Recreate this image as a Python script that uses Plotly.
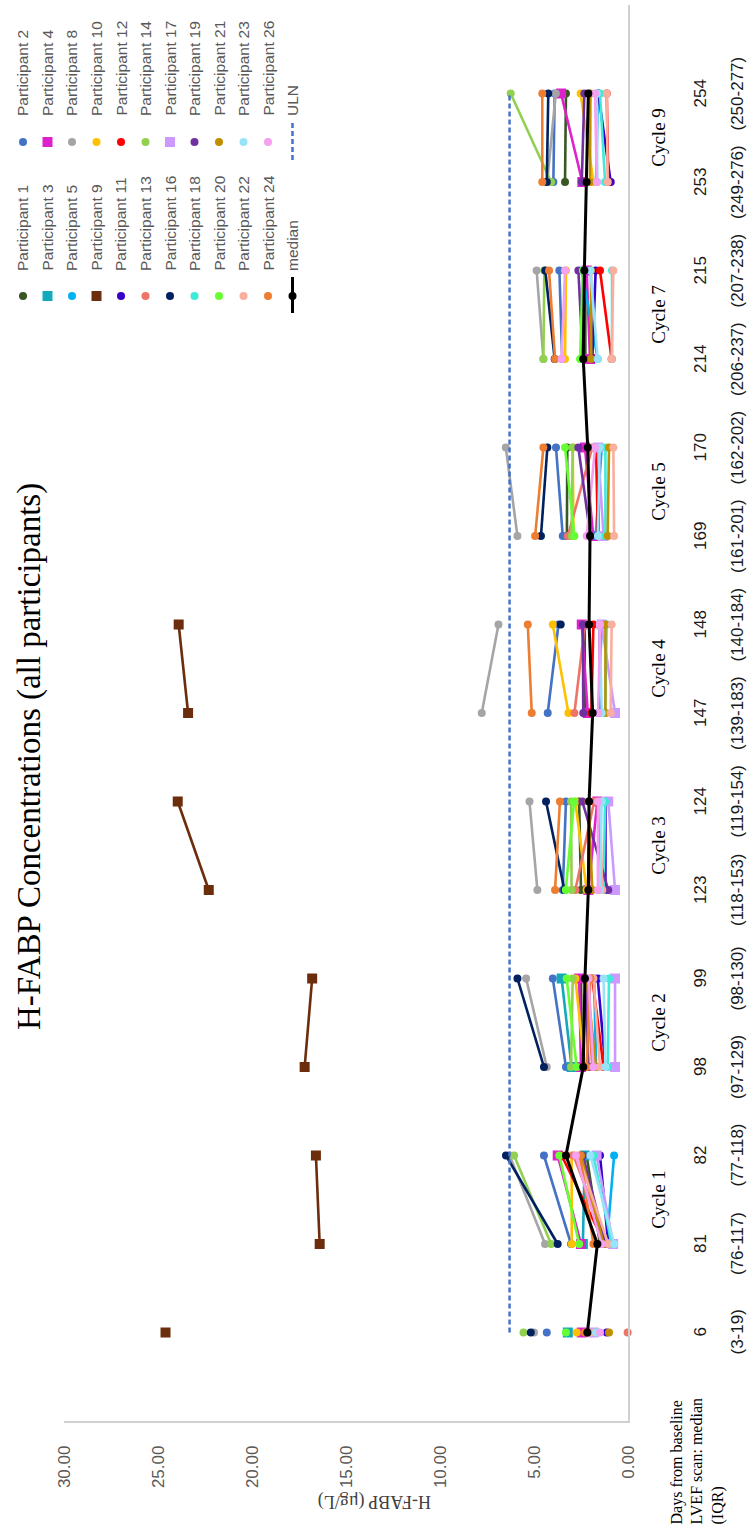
import plotly.graph_objects as go

# ---------------- data ----------------
days = ["6", "81", "82", "98", "99", "123", "124", "147", "148", "169", "170", "214", "215", "253", "254"]
iqr = ["(3-19)", "(76-117)", "(77-118)", "(97-129)", "(98-130)", "(118-153)", "(119-154)",
       "(139-183)", "(140-184)", "(161-201)", "(162-202)", "(206-237)", "(207-238)",
       "(249-276)", "(250-277)"]
cycles = ["Cycle 1", "Cycle 2", "Cycle 3", "Cycle 4", "Cycle 5", "Cycle 7", "Cycle 9"]
value_ticks = [0, 5, 10, 15, 20, 25, 30]

N = None
p1 = [2.10, 1.49, 2.20, 2.45, 2.50, 2.50, 2.60, 2.30, 2.30, 3.25, 3.23, 2.27, 2.27, 3.35, 3.30]
p2 = [4.32, 3.03, 4.47, 3.30, 4.00, 3.47, 3.30, 4.27, 3.70, 3.47, 3.83, 3.50, 3.65, 3.97, 3.90]
p3 = [3.20, 2.40, 2.30, 3.00, 3.53, N, N, N, N, N, N, N, N, N, N]
p4 = [2.46, 2.50, 3.74, 2.50, 2.60, 2.11, 1.63, 2.14, 2.46, 1.85, 2.29, 2.02, 2.20, 2.43, 3.56]
p5 = [1.70, 1.13, 0.74, 1.70, 1.80, 1.55, 1.55, 1.58, 1.40, 1.72, 1.40, 1.61, 2.46, 1.70, 1.60]
p8 = [5.00, 4.41, 6.30, 4.32, 5.42, 4.82, 5.24, 7.78, 6.89, 5.88, 6.50, 4.50, 4.86, 4.30, 3.84]
p9 = [24.60, 16.40, 16.60, 17.20, 16.80, 22.30, 23.95, 23.40, 23.90, N, N, N, N, N, N]
p10 = [2.73, 2.99, 3.00, 2.30, 2.80, 2.20, 2.80, 3.17, 4.00, 2.90, 2.94, 3.35, 3.30, 1.84, 2.52]
p11 = [1.13, 1.05, 1.49, 1.20, 1.61, 1.20, 1.20, 1.50, 1.50, 1.58, 1.50, 1.90, 1.72, 0.92, 1.58]
p12 = [1.90, 1.22, 3.53, 1.30, 1.90, 1.50, 1.60, 1.95, 1.84, 1.60, 1.70, 0.87, 1.49, 1.05, 1.13]
p13 = [0.02, 1.10, 2.90, 1.90, 2.20, 2.80, 1.80, 2.85, 2.29, 3.20, 1.90, N, N, N, N]
p14 = [5.56, 4.09, 6.06, 3.03, 2.94, 3.00, 3.03, N, N, 3.00, 2.94, 4.50, 4.45, 4.09, 6.24]
p16 = [5.17, 3.74, 6.49, 4.47, 5.88, 3.38, 4.36, N, 3.58, 4.63, 4.29, 3.90, 4.40, 4.32, 4.24]
p17 = [1.84, 0.79, 1.67, 0.69, 0.69, 0.69, 1.05, 0.69, 1.40, 1.30, 1.60, N, N, N, N]
p18 = [1.60, 0.87, 1.84, 1.08, 1.01, 1.30, 1.22, 1.22, 1.13, 1.20, 1.20, 0.85, 0.85, 1.22, 1.49]
p19 = [2.20, 1.20, 2.40, 2.10, 2.30, 1.05, 2.43, 2.38, 2.40, 2.00, 2.64, 2.40, 2.64, 2.46, 2.32]
p20 = [3.30, 2.60, 3.65, 2.73, 3.26, 3.31, 2.87, N, N, 2.85, 3.35, 2.55, 2.40, N, N]
p21 = [1.01, 1.30, 2.50, 1.70, 2.20, 1.90, 2.10, 1.20, 1.20, 1.08, 1.01, 1.95, 1.97, 2.02, 2.00]
p22 = [2.00, 1.05, 2.65, 1.49, 1.84, 1.37, 1.49, 0.92, 0.87, 0.74, 0.78, 0.87, 0.78, 1.08, 1.13]
p23 = [1.70, 0.73, 2.00, 1.20, 1.30, 1.50, 1.40, 1.40, 1.50, 1.60, 1.50, 1.61, 2.00, 1.63, 1.66]
p24 = [2.30, 1.84, 2.55, 2.20, 2.00, 3.88, 3.62, 5.12, 5.33, 4.94, 4.50, 3.88, 4.20, 4.56, 4.56]
p26 = [1.49, 1.40, 2.77, 1.84, 2.10, 1.60, 1.60, 1.58, 1.49, 2.20, 1.75, 3.53, 3.35, 1.66, 1.75]
median = [2.16, 1.63, 3.30, 2.38, 2.29, 2.11, 2.07, 1.88, 2.07, 2.02, 2.14, 2.38, 2.32, 2.20, 2.11]
uln = [6.30] * 15

participants = [
    ("Participant 1", p1), ("Participant 2", p2), ("Participant 3", p3), ("Participant 4", p4),
    ("Participant 5", p5), ("Participant 8", p8), ("Participant 9", p9), ("Participant 10", p10),
    ("Participant 11", p11), ("Participant 12", p12), ("Participant 13", p13), ("Participant 14", p14),
    ("Participant 16", p16), ("Participant 17", p17), ("Participant 18", p18), ("Participant 19", p19),
    ("Participant 20", p20), ("Participant 21", p21), ("Participant 22", p22), ("Participant 23", p23),
    ("Participant 24", p24), ("Participant 26", p26),
]

# ---------------- styles ----------------
colors = {
    "Participant 1": "#385723", "Participant 2": "#4472C4", "Participant 3": "#12A9BD",
    "Participant 4": "#DD22CC", "Participant 5": "#00B0F0", "Participant 8": "#A5A5A5",
    "Participant 9": "#6B2D0C", "Participant 10": "#FFC000", "Participant 11": "#3300CC",
    "Participant 12": "#FF0000", "Participant 13": "#EF7468", "Participant 14": "#92D050",
    "Participant 16": "#002060", "Participant 17": "#CC99FF", "Participant 18": "#3DEBD8",
    "Participant 19": "#7030A0", "Participant 20": "#66FF33", "Participant 21": "#BF8F00",
    "Participant 22": "#F9AE9E", "Participant 23": "#99E3F9", "Participant 24": "#ED7D31",
    "Participant 26": "#F5A0F0",
}
square_ones = {"Participant 3", "Participant 4", "Participant 9", "Participant 17"}

W, H = 749, 1531
L, R, T, B = 64, 628, 5, 1421
groups = [[0], [1, 2], [3, 4], [5, 6], [7, 8], [9, 10], [11, 12], [13, 14]]


def px_x(px):
    return (px - L) / (R - L)


def px_y(py):
    return (B - py) / (B - T)


def split(vals):
    xs, ys = [], []
    for g in groups:
        for i in g:
            xs.append(vals[i])
            ys.append(i if vals[i] is not None else None)
        xs.append(None)
        ys.append(None)
    return xs, ys


fig = go.Figure()

for name, vals in participants:
    xs, ys = split(vals)
    sq = name in square_ones
    fig.add_trace(go.Scatter(
        x=xs, y=ys, mode="lines+markers", name=name,
        line=dict(color=colors[name], width=2.6),
        marker=dict(symbol="square" if sq else "circle", size=10 if sq else 8,
                    color=colors[name], line=dict(width=0)),
        connectgaps=False, cliponaxis=False, showlegend=False,
    ))

fig.add_trace(go.Scatter(
    x=median, y=list(range(len(days))), mode="lines+markers", name="median",
    line=dict(color="#000000", width=3), marker=dict(size=8, color="#000000"),
    cliponaxis=False, showlegend=False,
))
fig.add_trace(go.Scatter(
    x=uln, y=list(range(len(days))), mode="lines", name="ULN",
    line=dict(color="#4472C4", width=2.5, dash="5px,3px"), showlegend=False,
))

ann = []
shapes = []

# right-hand category labels
for i, (d, q) in enumerate(zip(days, iqr)):
    ann.append(dict(x=px_x(700), y=i, xref="paper", yref="y", text=d, showarrow=False,
                    textangle=-90, xanchor="center", yanchor="middle",
                    font=dict(family="Liberation Sans", size=17, color="#1a1a1a")))
    ann.append(dict(x=px_x(737), y=i, xref="paper", yref="y", text=q, showarrow=False,
                    textangle=-90, xanchor="center", yanchor="middle",
                    font=dict(family="Liberation Sans", size=17, color="#1a1a1a")))
for k, c in enumerate(cycles):
    ann.append(dict(x=px_x(659), y=1.5 + 2 * k, xref="paper", yref="y", text=c, showarrow=False,
                    textangle=-90, xanchor="center", yanchor="middle",
                    font=dict(family="Liberation Serif", size=19, color="#000000")))

# header for the category table
ann.append(dict(x=px_x(665), y=px_y(1527), xref="paper", yref="paper",
                text="Days from baseline<br>LVEF scan: median<br>(IQR)", showarrow=False,
                textangle=-90, xanchor="left", yanchor="bottom", align="left",
                font=dict(family="Liberation Serif", size=16, color="#000000")))

# title
ann.append(dict(x=px_x(29), y=px_y(757), xref="paper", yref="paper",
                text="H-FABP Concentrations (all participants)", showarrow=False,
                textangle=-90, xanchor="center", yanchor="middle",
                font=dict(family="Liberation Serif", size=33, color="#000000")))

# value axis title (upside down)
ann.append(dict(x=px_x(375), y=px_y(1502), xref="paper", yref="paper",
                text="H-FABP (μg/L)", showarrow=False, textangle=180,
                xanchor="center", yanchor="middle",
                font=dict(family="Liberation Serif", size=18, color="#404040")))

# manual legend (rotated)
top_band = ["Participant 2", "Participant 4", "Participant 8", "Participant 10", "Participant 12",
            "Participant 14", "Participant 17", "Participant 19", "Participant 21", "Participant 23",
            "Participant 26", "ULN"]
low_band = ["Participant 1", "Participant 3", "Participant 5", "Participant 9", "Participant 11",
            "Participant 13", "Participant 16", "Participant 18", "Participant 20", "Participant 22",
            "Participant 24", "median"]
col_x = [23 + 24.5 * j for j in range(12)]


def marker_shape(name, cx, cy):
    if name == "ULN":
        return [dict(type="line", xref="paper", yref="paper", x0=px_x(cx), x1=px_x(cx),
                     y0=px_y(123), y1=px_y(160),
                     line=dict(color="#4472C4", width=2.5, dash="5px,3px"))]
    if name == "median":
        return [dict(type="line", xref="paper", yref="paper", x0=px_x(cx), x1=px_x(cx),
                     y0=px_y(277), y1=px_y(313), line=dict(color="#000000", width=3)),
                dict(type="circle", xref="paper", yref="paper", x0=px_x(cx - 4), x1=px_x(cx + 4),
                     y0=px_y(cy + 4), y1=px_y(cy - 4), fillcolor="#000000", line=dict(width=0))]
    col = colors[name]
    if name in square_ones:
        return [dict(type="rect", xref="paper", yref="paper", x0=px_x(cx - 5), x1=px_x(cx + 5),
                     y0=px_y(cy + 5), y1=px_y(cy - 5), fillcolor=col, line=dict(width=0))]
    return [dict(type="circle", xref="paper", yref="paper", x0=px_x(cx - 4), x1=px_x(cx + 4),
                 y0=px_y(cy + 4), y1=px_y(cy - 4), fillcolor=col, line=dict(width=0))]


for band, my, ty in ((top_band, 142, 118), (low_band, 296, 273)):
    for j, name in enumerate(band):
        cx = col_x[j]
        shapes += marker_shape(name, cx, my)
        ann.append(dict(x=px_x(cx), y=px_y(ty), xref="paper", yref="paper", text=name,
                        showarrow=False, textangle=-90, xanchor="center", yanchor="bottom",
                        font=dict(family="Liberation Sans", size=15.5, color="#595959")))

fig.update_layout(
    width=W, height=H,
    margin=dict(l=L, r=W - R, t=T, b=H - B, pad=0, autoexpand=False),
    paper_bgcolor="white", plot_bgcolor="white",
    showlegend=False,
    annotations=ann, shapes=shapes,
    xaxis=dict(range=[30, 0], tickvals=value_ticks, tickformat=".2f", tickangle=-90,
               showgrid=False, zeroline=False, showline=True, linecolor="#D0D0D0", linewidth=1.5,
               ticks="", ticklabelstandoff=16, automargin=False,
               tickfont=dict(family="Liberation Sans", size=17, color="#595959")),
    yaxis=dict(range=[-1, 15], side="right", showgrid=False, zeroline=False, showline=True,
               linecolor="#D0D0D0", linewidth=1.5, showticklabels=False, ticks="",
               automargin=False),
)

fig.write_html(
    "out.html",
    config={"displayModeBar": False},
    post_script="document.body.style.margin='0';document.body.style.overflow='hidden';",
)
